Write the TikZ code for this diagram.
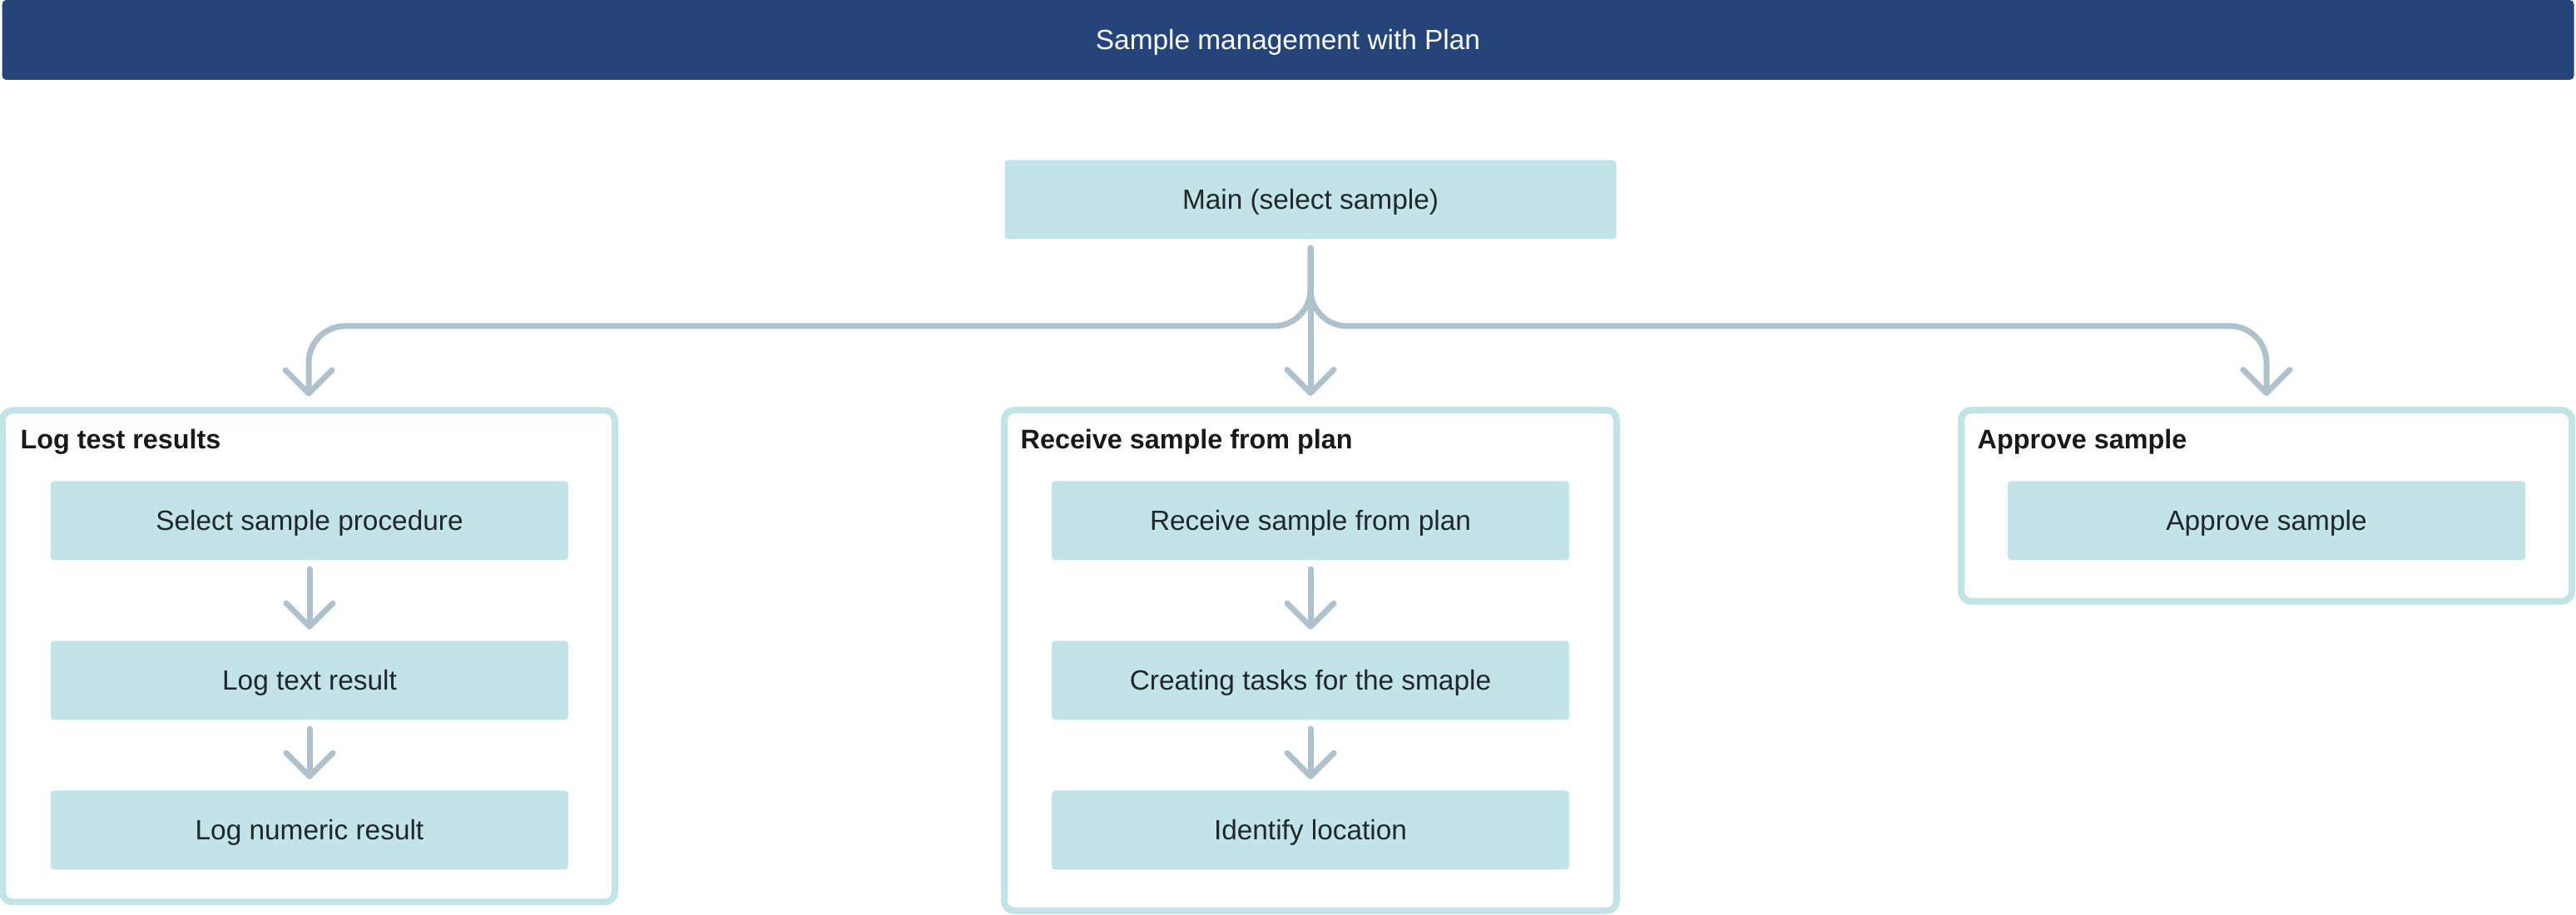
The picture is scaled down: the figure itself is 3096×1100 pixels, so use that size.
\documentclass[tikz,border=0pt]{standalone}
\usepackage{fontspec}
\setmainfont{Liberation Sans}
\usetikzlibrary{arrows.meta}
\definecolor{headblue}{HTML}{25447A}
\definecolor{boxteal}{HTML}{C2E3E7}
\definecolor{linegray}{HTML}{AEC1CD}
\definecolor{inktext}{HTML}{1F2729}
\begin{document}
\begin{tikzpicture}[x=0.1mm, y=-0.1mm,
	stepbox/.style={fill=boxteal, rounded corners=0.4mm, minimum width=62.2mm, minimum height=9.5mm, inner sep=0pt, text height=6.8pt, text depth=0pt, text=inktext, font=\fontsize{9.5}{11}\selectfont},
	groupbox/.style={draw=boxteal, line width=0.8mm, rounded corners=1.2mm, inner sep=0pt},
	grouptitle/.style={anchor=base west, inner sep=0pt, text=black!90, font=\fontsize{9.2}{11}\selectfont\bfseries},
	flow/.style={draw=linegray, line width=0.7mm, line cap=round, shorten <=1mm, shorten >=1.3mm, -{Straight Barb[length=2.8mm,width=5.6mm,round]}}]
	\useasboundingbox (0,0) rectangle (3096,1100);
	\node[fill=headblue, rounded corners=0.5mm, minimum width=309.1mm, minimum height=9.6mm, inner sep=0pt, text height=6.8pt, text depth=0pt, text=white, font=\fontsize{9.5}{11}\selectfont] (header) at (1548,48) {Sample management with Plan};
	\node[stepbox, minimum width=73.5mm] (main) at (1575,240) {Main (select sample)};
	% groups
	\node[groupbox, minimum width=73.6mm, minimum height=59.1mm] (grpL) at (371,789) {};
	\node[groupbox, minimum width=73.6mm, minimum height=60.2mm] (grpM) at (1575,794) {};
	\node[groupbox, minimum width=73.4mm, minimum height=23mm] (grpR) at (2724,608) {};
	\node[grouptitle] (titleL) at (24,540) {Log test results};
	\node[grouptitle] (titleM) at (1226,540) {Receive sample from plan};
	\node[grouptitle] (titleR) at (2376,540) {Approve sample};
	% steps
	\node[stepbox] (ls1) at (372,626) {Select sample procedure};
	\node[stepbox] (ls2) at (372,818) {Log text result};
	\node[stepbox] (ls3) at (372,998) {Log numeric result};
	\node[stepbox] (ms1) at (1575,626) {Receive sample from plan};
	\node[stepbox] (ms2) at (1575,818) {Creating tasks for the smaple};
	\node[stepbox] (ms3) at (1575,998) {Identify location};
	\node[stepbox] (rs1) at (2724,626) {Approve sample};
	% connectors
	\coordinate (fork) at (1575,392);
	\draw[flow, rounded corners=4.4mm] (main.south) -- (fork) -| (grpL.north);
	\draw[flow, rounded corners=4.4mm] (main.south) -- (fork) -| (grpR.north);
	\draw[flow] (main) -- (grpM);
	\draw[flow] (ls1) -- (ls2);
	\draw[flow] (ls2) -- (ls3);
	\draw[flow] (ms1) -- (ms2);
	\draw[flow] (ms2) -- (ms3);
\end{tikzpicture}
\end{document}
